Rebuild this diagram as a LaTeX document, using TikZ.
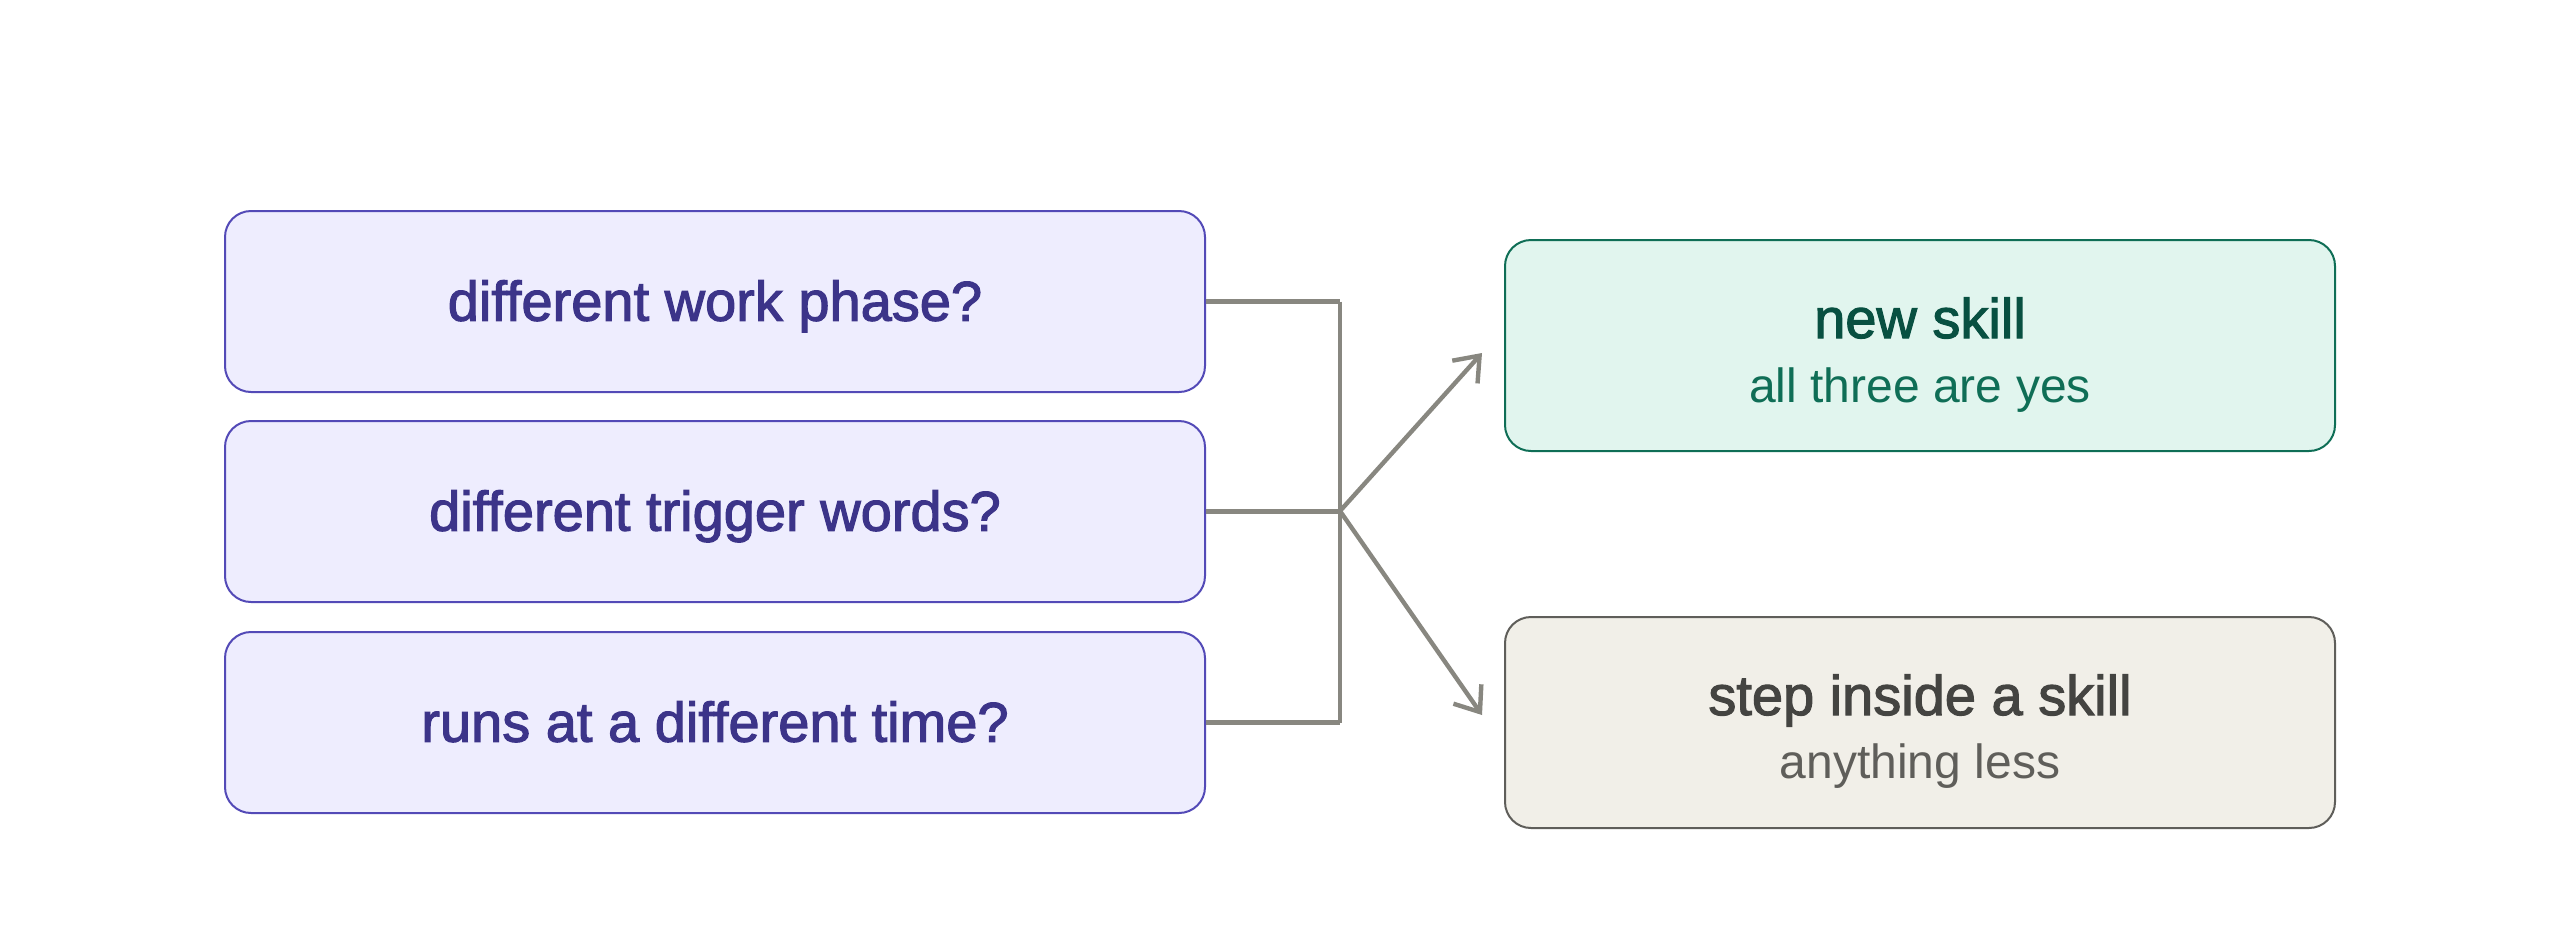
\documentclass[tikz,border=0pt]{standalone}
\usepackage{fontspec}
\setmainfont{Liberation Sans}
\newfontfamily\medfont[FakeBold=2]{Liberation Sans}
\usetikzlibrary{arrows.meta}
\definecolor{lavfill}{HTML}{EEEDFE}
\definecolor{lavdraw}{HTML}{534AB7}
\definecolor{lavtext}{HTML}{3C3489}
\definecolor{grfill}{HTML}{E1F5EE}
\definecolor{grdraw}{HTML}{0F6E56}
\definecolor{grtitle}{HTML}{085041}
\definecolor{grsub}{HTML}{0F6E56}
\definecolor{bgfill}{HTML}{F1EFE8}
\definecolor{bgdraw}{HTML}{5F5E5A}
\definecolor{bgtitle}{HTML}{444441}
\definecolor{bgsub}{HTML}{5F5E5A}
\definecolor{conn}{HTML}{888780}
\tikzset{
  qbox/.style={draw=lavdraw, fill=lavfill, line width=1pt, rounded corners=13pt,
    minimum width=490pt, minimum height=90.5pt, inner sep=0pt,
    text height=19.2pt, text depth=0pt,
    text=lavtext, font=\medfont\fontsize{28pt}{32pt}\selectfont},
  outbox/.style={line width=1pt, rounded corners=13pt,
    minimum width=415pt, minimum height=105.5pt, inner sep=0pt},
  ttl/.style={font=\medfont\fontsize{28pt}{32pt}\selectfont, inner sep=0pt},
  sub/.style={font=\fontsize{24pt}{28pt}\selectfont, inner sep=0pt},
  link/.style={draw=conn, line width=2.2pt},
  arr/.style={link, -{Straight Barb[length=11pt, width=17pt, line width=2.2pt]}, line cap=round}
}
\begin{document}
\begin{tikzpicture}[x=0.5pt, y=-0.5pt]
\useasboundingbox (0,0) rectangle (2560,949);
\node[qbox] (q1) at (715,301.5) {different work phase?};
\node[qbox] (q2) at (715,511.5) {different trigger words?};
\node[qbox] (q3) at (715,722.5) {runs at a different time?};
\node[outbox, draw=grdraw, fill=grfill] (new) at (1920,345.5) {};
\node[outbox, draw=bgdraw, fill=bgfill] (step) at (1920,722.5) {};
\node[ttl, text=grtitle, anchor=base] (newt) at (1920,338) {new skill};
\node[sub, text=grsub, anchor=base] (news) at (1920,402) {all three are yes};
\node[ttl, text=bgtitle, anchor=base] (stept) at (1920,715) {step inside a skill};
\node[sub, text=bgsub, anchor=base] (steps) at (1920,778) {anything less};
\coordinate (j) at (1340,511);
\coordinate (a1) at (1482,353);
\coordinate (a2) at (1482,715);
\draw[link] (q1.east) -- (q1.east -| j);
\draw[link] (q2.east) -- (q2.east -| j);
\draw[link] (q3.east) -- (q3.east -| j);
\draw[link] (q1.east -| j) -- (q3.east -| j);
\draw[arr] (j) -- (a1);
\draw[arr] (j) -- (a2);
\end{tikzpicture}
\end{document}
